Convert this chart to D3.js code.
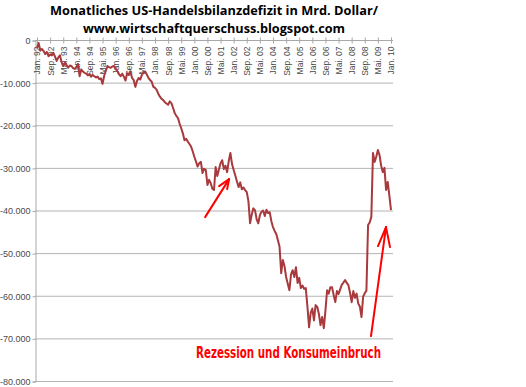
<!DOCTYPE html>
<html>
<head>
<meta charset="utf-8">
<script src="https://cdn.jsdelivr.net/npm/d3@7"></script>
<style>
  body { margin: 0; background: #fff; }
  svg { display: block; }
</style>
</head>
<body>
<div id="chart"></div>
<script>
// Monatliches US-Handelsbilanzdefizit (Mrd. Dollar), Jan. 92 - Jan. 10

const titleLines = ["Monatliches US-Handelsbilanzdefizit in Mrd. Dollar/", "www.wirtschaftquerschuss.blogspot.com"];
const noteText = "Rezession und Konsumeinbruch";

const monthNames = ["Jan.", "Feb.", "Mrz.", "Apr.", "Mai.", "Jun.", "Jul.", "Aug.", "Sep.", "Okt.", "Nov.", "Dez."];
const years = [92, 93, 94, 95, 96, 97, 98, 99, "00", "01", "02", "03", "04", "05", "06", "07", "08", "09", 10];

// values in Mrd. Dollar
const vals1992_1995 = [
  -1.9, -0.7, -2.5, -2.1, -2.6, -3.3, -2.8, -3.8, -3.4, -3.6, -3.0, -3.9,
  -4.9, -4.1, -3.6, -5.2, -6.1, -5.3, -5.9, -6.5, -6.0, -6.1, -6.6, -6.8,
  -6.4, -5.6, -8.5, -6.9, -7.4, -7.7, -7.9, -8.3, -8.0, -8.6, -8.2, -8.5,
  -8.8, -8.6, -9.2, -9.0, -10.3, -8.4, -7.2, -6.1, -6.4, -6.5, -6.2, -6.1
];
const vals1996_1999 = [
  -6.8, -7.3, -8.0, -8.5, -7.9, -8.6, -9.5, -7.8, -8.2, -7.4, -8.9, -9.4,
  -11.0, -9.6, -8.9, -9.3, -8.2, -7.6, -7.4, -8.1, -8.9, -9.4, -9.8, -11.0,
  -11.2, -11.7, -12.6, -13.3, -13.8, -14.1, -14.6, -14.9, -15.2, -14.4, -14.8, -15.9,
  -17.1, -17.8, -18.3, -19.6, -20.7, -21.9, -23.5, -23.2, -23.8, -24.4, -25.0, -26.1
];
const vals2000_2003 = [
  -27.4, -28.5, -29.7, -28.9, -28.6, -31.2, -30.2, -30.5, -34.0, -32.8, -33.6, -34.9,
  -35.2, -29.8, -31.9, -30.4, -28.9, -28.2, -30.3, -29.5, -31.0, -28.4, -26.5, -29.1,
  -30.5, -31.8, -33.2, -34.5, -33.4, -35.0, -34.6, -35.2, -35.7, -37.8, -43.0, -41.0,
  -39.5, -39.9, -42.0, -43.0, -41.1, -40.3, -40.0, -41.3, -39.8, -40.6, -40.4, -42.5
];
const vals2004_2007 = [
  -43.9, -44.8, -45.5, -47.0, -48.5, -54.7, -51.6, -53.0, -55.6, -57.2, -58.7, -55.0,
  -54.0, -55.6, -53.3, -57.0, -55.8, -58.2, -57.6, -58.4, -58.2, -62.5, -67.4, -64.0,
  -63.0, -65.8, -62.2, -62.6, -64.3, -66.9, -65.0, -67.6, -63.5, -58.7, -59.5, -58.0,
  -58.0, -59.8, -61.5, -58.9, -59.6, -58.5, -57.4, -56.9, -56.3, -57.0, -57.5, -59.3
];
const vals2008_2010 = [
  -61.5, -58.9, -60.5, -59.5, -61.8, -62.5, -65.0, -60.2, -59.4, -58.8, -43.4, -42.8,
  -41.5, -26.5, -28.6, -27.4, -25.8, -27.0, -29.5, -31.0, -30.0, -35.2, -33.3, -36.5,
  -39.9
];
const yTicks = [0, -10, -20, -30, -40, -50, -60, -70, -80];

const values = [].concat(vals1992_1995, vals1996_1999, vals2000_2003, vals2004_2007, vals2008_2010);
const months = [];
years.forEach(y => monthNames.forEach(m => months.push(m + " " + y)));
const data = values.map((v, i) => ({ month: months[i], value: v }));
const xTicks = data.map(d => d.month).filter((d, i) => i % 8 === 0);

// dimensions
const width = 526, height = 387;
const plot = { left: 35, right: 393, top: 40, bottom: 381 };

const svg = d3.select("#chart").append("svg")
    .attr("width", width)
    .attr("height", height);

const x = d3.scalePoint()
    .domain(data.map(d => d.month))
    .range([plot.left + 2, plot.right - 2]);

const y = d3.scaleLinear()
    .domain([-80, 0])
    .range([plot.bottom, plot.top]);

const de = d3.formatLocale({ decimal: ",", thousands: ".", grouping: [3], currency: ["", " $"], minus: "-" });
const fmt = de.format(",");

// gridlines
svg.append("g")
  .selectAll("line")
  .data(yTicks)
  .join("line")
    .attr("x1", plot.left)
    .attr("x2", plot.right)
    .attr("y1", d => y(d) + 0.5)
    .attr("y2", d => y(d) + 0.5)
    .attr("stroke", "#b4b4b4")
    .attr("stroke-width", 1);

// y axis
const yAxis = svg.append("g")
    .attr("transform", `translate(${plot.left + 0.5},0.5)`)
    .call(d3.axisLeft(y).tickValues(yTicks).tickSize(3).tickPadding(2).tickFormat(d => fmt(d * 1000)));
yAxis.select(".domain").attr("stroke", "#a8a8a8");
yAxis.selectAll(".tick line").attr("stroke", "#a8a8a8");
yAxis.selectAll("text")
    .attr("font-family", "Liberation Sans, Arial, sans-serif")
    .attr("font-size", "9px")
    .attr("fill", "#4a4a4a");

// x axis (at the top, on the zero line)
const xAxis = svg.append("g")
    .attr("transform", `translate(0,${plot.top - 3 + 0.5})`)
    .call(d3.axisBottom(x).tickValues(xTicks).tickSize(6).tickSizeOuter(0));
xAxis.select(".domain").remove();
xAxis.selectAll(".tick line").attr("stroke", "#a8a8a8");
xAxis.selectAll("text")
    .attr("transform", "rotate(-90)")
    .attr("x", -9)
    .attr("y", 0)
    .attr("dy", "0.35em")
    .attr("text-anchor", "end")
    .attr("font-family", "Liberation Sans, Arial, sans-serif")
    .attr("font-size", "8.5px")
    .attr("fill", "#4a4a4a");

svg.append("line")
    .attr("x1", plot.left)
    .attr("x2", plot.right)
    .attr("y1", y(0) + 0.5)
    .attr("y2", y(0) + 0.5)
    .attr("stroke", "#a8a8a8");

// the series
const line = d3.line()
    .x(d => x(d.month))
    .y(d => y(d.value));

svg.append("path")
    .datum(data)
    .attr("d", line)
    .attr("fill", "none")
    .attr("stroke", "#a8393d")
    .attr("stroke-width", 2)
    .attr("stroke-linejoin", "round");

// title
svg.append("text")
    .attr("x", 214)
    .attr("y", 15)
    .attr("text-anchor", "middle")
    .attr("font-family", "Open Sans, sans-serif")
    .attr("font-weight", "bold")
    .attr("font-size", "13px")
    .attr("textLength", 328)
    .attr("lengthAdjust", "spacingAndGlyphs")
    .text(titleLines[0]);

svg.append("text")
    .attr("x", 214)
    .attr("y", 33)
    .attr("text-anchor", "middle")
    .attr("font-family", "Open Sans, sans-serif")
    .attr("font-weight", "bold")
    .attr("font-size", "13px")
    .attr("textLength", 262)
    .attr("lengthAdjust", "spacingAndGlyphs")
    .text(titleLines[1]);

// hand drawn red arrows, anchored on data points
const red = "#ff0000";
function arrow(fromX, fromY, tip, headL, headR) {
  const g = svg.append("g")
      .attr("stroke", red)
      .attr("stroke-width", 2)
      .attr("stroke-linecap", "round");
  g.append("line").attr("x1", fromX).attr("y1", fromY).attr("x2", tip[0]).attr("y2", tip[1]);
  g.append("line").attr("x1", tip[0]).attr("y1", tip[1]).attr("x2", tip[0] + headL[0]).attr("y2", tip[1] + headL[1]);
  g.append("line").attr("x1", tip[0]).attr("y1", tip[1]).attr("x2", tip[0] + headR[0]).attr("y2", tip[1] + headR[1]);
}
const a1 = data[116];
arrow(x(a1.month) - 22, y(a1.value) + 45, [x(a1.month) + 2, y(a1.value) + 7], [-10, 7], [-2, 10]);
const a2 = data[data.length - 1];
arrow(x(a2.month) - 20, y(a2.value) + 126, [x(a2.month) - 5, y(a2.value) + 17], [-8, 19], [4, 20]);

// note
svg.append("text")
    .attr("x", 381)
    .attr("y", 358)
    .attr("text-anchor", "end")
    .attr("font-family", "DejaVu Sans Condensed, DejaVu Sans, sans-serif")
    .attr("font-weight", "bold")
    .attr("font-size", "15px")
    .attr("fill", red)
    .attr("textLength", 185)
    .attr("lengthAdjust", "spacingAndGlyphs")
    .text(noteText);
</script>
</body>
</html>
